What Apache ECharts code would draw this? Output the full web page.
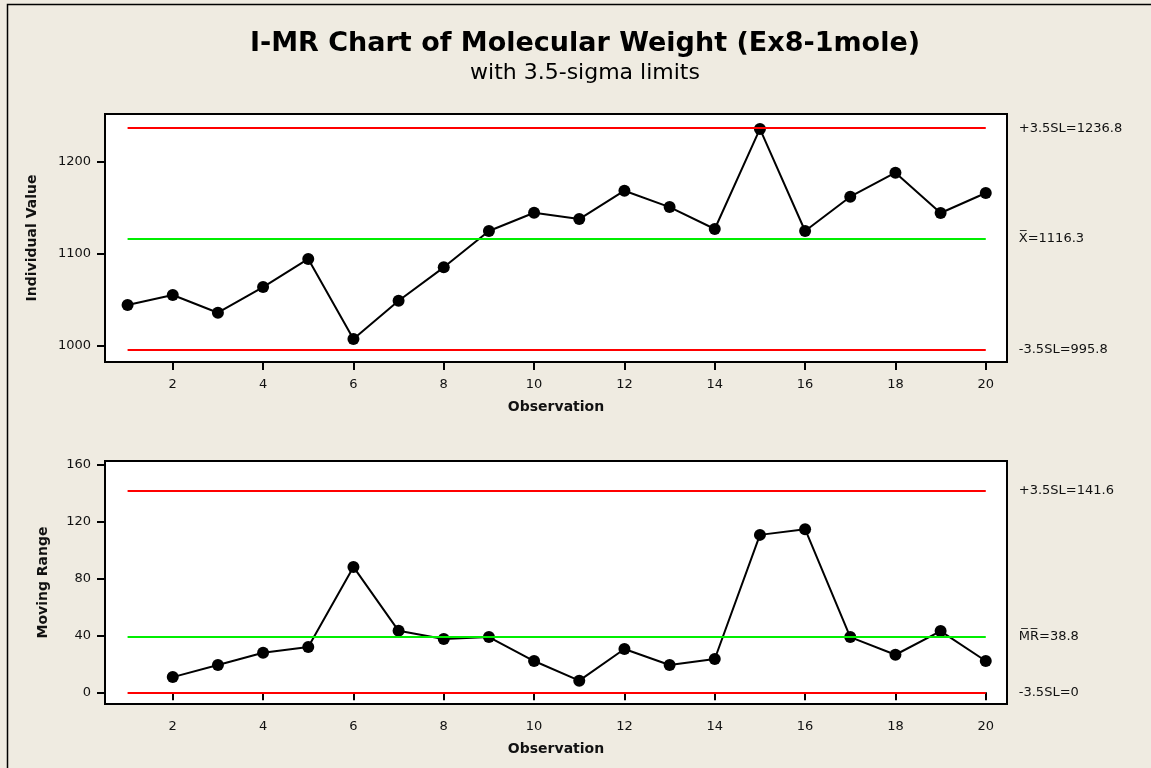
<!DOCTYPE html>
<html>
<head>
<meta charset="utf-8">
<title>I-MR Chart of Molecular Weight</title>
<script src="https://cdn.jsdelivr.net/npm/echarts@6/dist/echarts.min.js"></script>
<style>
  html, body { margin: 0; padding: 0; background: #efebe1; }
  #chart { width: 1151px; height: 768px; }
</style>
</head>
<body>
<div id="chart"></div>
<script>
// Observation numbers
const observations = [1, 2, 3, 4, 5, 6, 7, 8, 9, 10, 11, 12, 13, 14, 15, 16, 17, 18, 19, 20];

// Individual molecular weights
const individualValues = [1044.6, 1055.4, 1036.2, 1064.1, 1094.6, 1007.6, 1049.2, 1085.5, 1125.0, 1144.9,
                          1138.0, 1168.8, 1151.0, 1127.2, 1236.0, 1125.0, 1162.3, 1188.4, 1144.6, 1166.3];

// Moving ranges (first observation has none)
const movingRanges = [null, 10.7, 19.2, 27.8, 31.8, 88.1, 43.2, 37.4, 38.8, 22.0,
                      8.2, 30.4, 19.2, 23.4, 110.6, 114.6, 38.8, 26.4, 43.0, 22.0];

// Control limits
const iLimits = { ucl: 1236.8, center: 1116.3, lcl: 995.8 };
const mrLimits = { ucl: 141.6, center: 38.8, lcl: 0 };

// Tick labels
const xTicks = [2, 4, 6, 8, 10, 12, 14, 16, 18, 20];
const iTicks = [1000, 1100, 1200];
const mrTicks = [0, 40, 80, 120, 160];

const FONT = "Tahoma, 'DejaVu Sans', sans-serif";
const INK = '#111';

const chart = echarts.init(document.getElementById('chart'));

function xAxis(gridIndex) {
  return {
    type: 'value', gridIndex, min: 0.5, max: 20.47,
    name: 'Observation', nameLocation: 'middle', nameGap: 38,
    nameTextStyle: { fontFamily: FONT, fontWeight: 'bold', fontSize: 14, color: INK },
    axisLine: { show: false },
    axisTick: { show: true, length: 8, customValues: xTicks, lineStyle: { color: '#000', width: 2 } },
    axisLabel: { customValues: xTicks, margin: 16, fontFamily: FONT, fontSize: 13, color: INK,
                 formatter: v => String(v) },
    splitLine: { show: false }
  };
}

function yAxis(gridIndex, min, max, ticks, name, gap) {
  return {
    type: 'value', gridIndex, min, max,
    name, nameLocation: 'middle', nameGap: gap,
    nameTextStyle: { fontFamily: FONT, fontWeight: 'bold', fontSize: 14, color: INK },
    axisLine: { show: false },
    axisTick: { show: true, length: 8, customValues: ticks, lineStyle: { color: '#000', width: 2 } },
    axisLabel: { customValues: ticks, margin: 14, fontFamily: FONT, fontSize: 13, color: INK,
                 formatter: v => String(v) },
    splitLine: { show: false }
  };
}

function limitSeries(idx, value, color, text) {
  return {
    type: 'line', xAxisIndex: idx, yAxisIndex: idx, data: [], silent: true, z: 1,
    markLine: {
      silent: true, symbol: 'none', animation: false,
      lineStyle: { color, width: 2, type: 'solid' },
      label: {
        show: true, position: 'end', distance: 33, formatter: text,
        fontFamily: FONT, fontSize: 13, color: INK
      },
      data: [[{ coord: [observations[0], value] }, { coord: [observations[observations.length - 1], value] }]]
    }
  };
}

function dataSeries(idx, values) {
  return {
    type: 'line', xAxisIndex: idx, yAxisIndex: idx, z: 3,
    data: observations.map((o, i) => [o, values[i]]),
    connectNulls: false,
    symbol: 'circle', symbolSize: 12, showAllSymbol: true,
    lineStyle: { color: '#000', width: 2 },
    itemStyle: { color: '#000' },
    animation: false
  };
}

chart.setOption({
  backgroundColor: '#efebe1',
  animation: false,
  title: {
    text: 'I-MR Chart of Molecular Weight (Ex8-1mole)',
    subtext: 'with 3.5-sigma limits',
    left: 580, top: 25, textAlign: 'center', itemGap: 5,
    textStyle: { fontFamily: FONT, fontWeight: 'bold', fontSize: 27, color: '#000' },
    subtextStyle: { fontFamily: FONT, fontSize: 22, color: '#000' }
  },
  graphic: [{
    type: 'rect', z: -1, silent: true,
    shape: { x: 7.5, y: 4.5, width: 1300, height: 900 },
    style: { fill: 'none', stroke: '#000', lineWidth: 1.5 }
  }],
  grid: [
    { left: 105, top: 114, width: 902, height: 248, show: true, backgroundColor: '#fff', borderColor: '#000', borderWidth: 2 },
    { left: 105, top: 461, width: 902, height: 243, show: true, backgroundColor: '#fff', borderColor: '#000', borderWidth: 2 }
  ],
  xAxis: [xAxis(0), xAxis(1)],
  yAxis: [
    yAxis(0, 982.6, 1252.2, iTicks, 'Individual Value', 66),
    yAxis(1, -8.2, 162.5, mrTicks, 'Moving Range', 55)
  ],
  series: [
    limitSeries(0, iLimits.ucl, '#ff0000', '+3.5SL=' + iLimits.ucl.toFixed(1)),
    limitSeries(0, iLimits.center, '#00ee00', 'X\u0305=' + iLimits.center.toFixed(1)),
    limitSeries(0, iLimits.lcl, '#ff0000', '-3.5SL=' + iLimits.lcl.toFixed(1)),
    dataSeries(0, individualValues),
    limitSeries(1, mrLimits.ucl, '#ff0000', '+3.5SL=' + mrLimits.ucl.toFixed(1)),
    limitSeries(1, mrLimits.center, '#00ee00', 'M\u0305R\u0305=' + mrLimits.center.toFixed(1)),
    limitSeries(1, mrLimits.lcl, '#ff0000', '-3.5SL=' + mrLimits.lcl),
    dataSeries(1, movingRanges)
  ]
});
</script>
</body>
</html>
